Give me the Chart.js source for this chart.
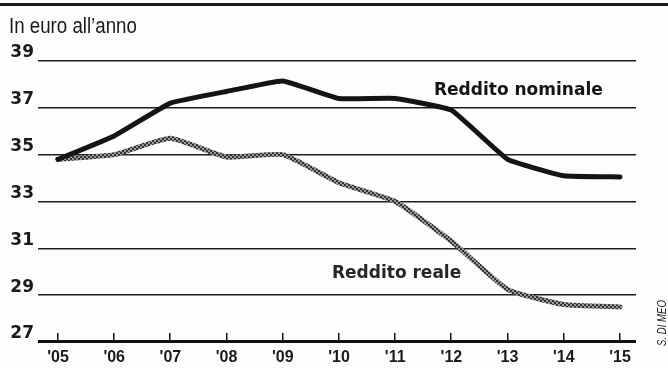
<!DOCTYPE html>
<html>
<head>
<meta charset="utf-8">
<script src="https://cdn.jsdelivr.net/npm/chart.js@4"></script>
<style>
  html, body { margin: 0; padding: 0; background: #fdfdfd; }
  #wrap { width: 668px; height: 368px; position: relative; }
</style>
</head>
<body>
<div id="wrap"><canvas id="c" width="668" height="368"></canvas></div>
<script>
// ---- data ----
const years = ["'05", "'06", "'07", "'08", "'09", "'10", "'11", "'12", "'13", "'14", "'15"];
const nominale = [34.8, 35.8, 37.2, 37.7, 38.15, 37.4, 37.4, 36.9, 34.8, 34.1, 34.05];
const reale = [34.8, 35.0, 35.7, 34.9, 35.0, 33.8, 33.0, 31.3, 29.25, 28.6, 28.5];
const yTicks = [27, 29, 31, 33, 35, 37, 39];
const title = "In euro all\u2019anno";
const seriesNames = ["Reddito nominale", "Reddito reale"];
const credit = "S. DI MEO";

// label anchors (data coordinates)
const labelPos = [{ x: 6.69, y: 37.55 }, { x: 4.875, y: 29.72 }];

const ink = '#1a1a1a';

function halftone() {
  const c = document.createElement('canvas');
  c.width = 4; c.height = 4;
  const g = c.getContext('2d');
  g.fillStyle = '#9a9a9a';
  g.fillRect(0, 0, 4, 4);
  g.fillStyle = '#333333';
  g.fillRect(0, 0, 2, 2);
  g.fillRect(2, 2, 2, 2);
  return g.createPattern(c, 'repeat');
}

const toXY = arr => arr.map((v, i) => ({ x: i, y: v }));

const decor = {
  id: 'decor',
  beforeDraw(chart) {
    const ctx = chart.ctx;
    ctx.save();
    ctx.fillStyle = '#fdfdfd';
    ctx.fillRect(0, 0, chart.width, chart.height);
    ctx.fillStyle = ink;
    ctx.fillRect(0, 3, chart.width, 3);
    ctx.restore();
  },
  afterDraw(chart) {
    const ctx = chart.ctx;
    const xs = chart.scales.x, ys = chart.scales.y;
    const a = chart.chartArea;
    const yb = Math.round(ys.getPixelForValue(yTicks[0]));
    ctx.save();
    // baseline + tick marks
    ctx.fillStyle = '#111111';
    ctx.fillRect(a.left, yb - 2, a.right - a.left, 3);
    years.forEach((_, i) => {
      const px = Math.round(xs.getPixelForValue(i));
      ctx.fillRect(px - 1, yb - 9, 1.5, 8);
    });
    // title (condensed)
    ctx.save();
    ctx.fillStyle = ink;
    ctx.font = "22px 'Liberation Sans', Arial, sans-serif";
    ctx.textBaseline = 'alphabetic';
    ctx.textAlign = 'left';
    ctx.translate(9, 33);
    ctx.scale(0.85, 1);
    ctx.fillText(title, 0, 0);
    ctx.restore();
    // series labels
    ctx.textAlign = 'left';
    ctx.textBaseline = 'alphabetic';
    ctx.font = "bold 17px 'DejaVu Sans', sans-serif";
    ctx.fillStyle = '#151515';
    ctx.fillText(seriesNames[0], xs.getPixelForValue(labelPos[0].x), ys.getPixelForValue(labelPos[0].y));
    ctx.fillStyle = '#262626';
    ctx.fillText(seriesNames[1], xs.getPixelForValue(labelPos[1].x), ys.getPixelForValue(labelPos[1].y));
    // credit
    ctx.translate(663, 323);
    ctx.rotate(-Math.PI / 2);
    ctx.scale(0.8, 1);
    ctx.font = "italic 12px 'Liberation Sans', Arial, sans-serif";
    ctx.textAlign = 'center';
    ctx.textBaseline = 'middle';
    ctx.fillStyle = '#222';
    ctx.fillText(credit, 0, 0);
    ctx.restore();
  }
};

new Chart(document.getElementById('c'), {
  type: 'line',
  data: {
    datasets: [
      {
        label: seriesNames[0],
        data: toXY(nominale),
        borderColor: '#141414',
        borderWidth: 5,
        pointRadius: 0,
        tension: 0.1,
        borderCapStyle: 'round',
        borderJoinStyle: 'round'
      },
      {
        label: seriesNames[1],
        data: toXY(reale),
        borderColor: halftone(),
        borderWidth: 5,
        pointRadius: 0,
        tension: 0.15,
        borderCapStyle: 'round',
        borderJoinStyle: 'round'
      }
    ]
  },
  options: {
    responsive: false,
    animation: false,
    layout: { padding: { top: 61, right: 32, bottom: 0, left: 0 } },
    plugins: { legend: { display: false }, tooltip: { enabled: false }, title: { display: false } },
    scales: {
      x: {
        type: 'linear',
        min: -0.356,
        max: 10.285,
        grid: { display: false, drawTicks: false },
        border: { display: false },
        afterBuildTicks: s => { s.ticks = years.map((_, i) => ({ value: i })); },
        afterFit: s => { s.height = 26; },
        ticks: {
          autoSkip: false,
          maxRotation: 0,
          padding: 6,
          color: ink,
          font: { family: "'Liberation Sans', Arial, sans-serif", weight: 'bold', size: 16 },
          callback: v => years[v]
        }
      },
      y: {
        min: yTicks[0],
        max: yTicks[yTicks.length - 1],
        grid: { color: '#1e1e1e', lineWidth: 1.5, drawTicks: false },
        border: { display: false },
        afterBuildTicks: s => { s.ticks = yTicks.map(v => ({ value: v })); },
        afterFit: s => { s.width = 38; },
        ticks: {
          padding: 4,
          labelOffset: -8,
          color: ink,
          font: { family: "'DejaVu Sans', sans-serif", weight: 'bold', size: 17 },
          callback: v => String(v)
        }
      }
    }
  },
  plugins: [decor]
});
</script>
</body>
</html>
